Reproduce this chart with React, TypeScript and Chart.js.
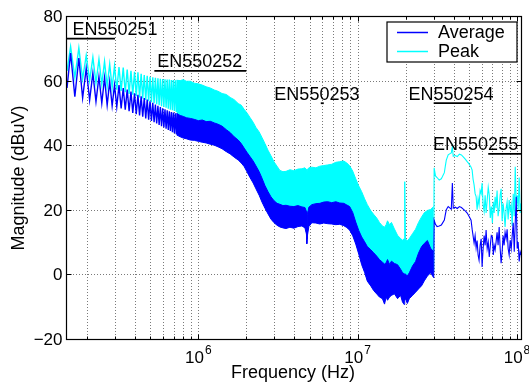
import React, { useEffect, useRef } from 'react';
import { Chart, registerables } from 'chart.js';

Chart.register(...registerables);

// ---------- conducted emission spectrum ----------

// Low-frequency harmonics (kHz), where individual lines are still resolved
const LF_KHZ = [150, 158, 168, 178, 188, 198, 208, 218, 228, 238, 248, 258, 268, 278, 288, 298, 308, 318, 328, 338, 348, 358, 368, 378, 388, 398, 408, 418, 428, 438, 448, 458, 468, 478, 488, 498, 508, 518, 528, 538, 548, 558, 568, 578, 588, 598, 608, 618, 628, 638, 648, 658, 668, 678, 688, 698, 708, 718, 728, 738, 748];

const PEAK_LF = [63.0, 70.5, 61.0, 70.1, 60.5, 67.8, 60.0, 67.2, 59.3, 66.6, 58.8, 65.9, 58.2, 65.1, 57.8, 64.5, 57.2, 64.2, 56.8, 64.0, 56.4, 63.4, 55.9, 63.0, 55.6, 62.7, 55.2, 62.6, 54.8, 62.1, 54.5, 61.7, 54.0, 61.5, 53.6, 61.2, 53.3, 61.0, 53.0, 60.9, 52.7, 60.7, 52.4, 60.6, 52.1, 60.5, 51.8, 60.4, 51.6, 60.3, 51.3, 60.3, 51.0, 60.2, 50.8, 60.2, 50.6, 60.1, 50.3, 60.1, 50.1];

const AVG_LF = [57.7, 68.5, 55.0, 67.0, 54.6, 63.8, 54.0, 62.3, 53.5, 61.2, 53.0, 60.9, 52.4, 59.7, 52.2, 58.6, 51.9, 58.6, 51.4, 57.7, 51.0, 57.2, 50.5, 56.6, 50.0, 56.1, 49.6, 55.6, 49.2, 55.1, 48.8, 54.6, 48.3, 54.1, 47.9, 53.6, 47.5, 53.1, 47.1, 52.6, 46.7, 52.2, 46.3, 51.8, 45.9, 51.4, 45.5, 51.1, 45.1, 50.8, 44.7, 50.5, 44.4, 50.3, 44.0, 50.1, 43.7, 49.9, 43.4, 49.8, 43.2];

// Dense region (MHz): harmonics merge into a band, given by its envelopes
const BAND_MHZ = [
  0.73, 0.77, 0.806, 0.841, 0.891, 0.944, 1.0, 1.06, 1.12, 1.19,
  1.26, 1.33, 1.41, 1.5, 1.585, 1.68, 1.78, 1.86, 1.94, 2.02,
  2.11, 2.21, 2.3, 2.41, 2.51, 2.62, 2.74, 2.86, 2.99, 3.12,
  3.25, 3.4, 3.55, 3.76, 3.98, 4.22, 4.47, 4.67, 4.77, 4.8,
  4.84, 4.94, 5.16, 5.47, 5.79, 6.13, 6.49, 6.88, 7.29, 7.72,
  8.18, 8.55, 8.91, 9.31, 9.73, 10.16, 10.6, 11.06, 11.5, 12.1,
  12.6, 13.2, 13.7, 14.3, 14.75, 15.1, 15.4, 15.85, 16.3, 17.0,
  17.8, 18.6, 19.1, 19.55, 19.75, 19.95, 20.5, 21.1, 22.1, 23.1,
  24.1, 25.2, 26.2, 27.4, 28.7, 30.0,
];

const PEAK_BAND_TOP = [
  60.1, 60.0, 60.3, 59.8, 59.8, 59.2, 59.0, 58.6, 58.1, 57.7,
  57.1, 56.7, 56.0, 55.7, 54.8, 54.1, 52.9, 52.4, 51.1, 50.0,
  48.6, 47.1, 45.5, 44.1, 42.4, 40.5, 38.4, 36.7, 34.8, 33.5,
  32.2, 31.8, 31.9, 32.4, 32.1, 32.6, 32.7, 33.0, 32.5, 31.5,
  32.5, 33.0, 33.2, 33.0, 33.5, 33.7, 33.9, 34.1, 34.7, 34.9,
  35.1, 34.5, 33.6, 32.0, 29.6, 27.4, 25.6, 23.4, 21.6, 19.7,
  18.6, 17.4, 16.1, 15.0, 14.6, 15.4, 16.6, 15.4, 16.1, 14.1,
  12.1, 11.1, 10.6, 11.0, 28.7, 11.0, 10.4, 11.1, 12.6, 14.0,
  16.1, 17.8, 19.1, 19.8, 20.1, 21.0,
];

const AVG_BAND_TOP = [
  49.8, 49.2, 48.9, 48.5, 48.3, 48.0, 47.6, 47.8, 47.3, 47.4,
  46.9, 46.5, 45.9, 44.8, 43.9, 42.6, 41.6, 40.5, 39.1, 37.8,
  36.5, 35.1, 33.6, 31.8, 29.8, 27.5, 25.6, 24.0, 22.8, 22.0,
  21.7, 21.3, 21.4, 21.1, 21.0, 21.3, 20.9, 20.7, 19.5, 11.0,
  18.5, 20.8, 21.6, 21.9, 22.0, 22.4, 22.5, 22.2, 22.5, 22.1,
  22.0, 21.5, 21.0, 19.2, 16.2, 13.6, 11.6, 10.1, 8.6, 7.6,
  6.7, 5.6, 4.6, 3.8, 3.2, 3.6, 4.6, 3.1, 4.1, 3.4,
  3.0, 1.6, 0.6, 0.2, 0.0, 0.1, -0.5, 0.5, 2.6, 4.0,
  6.6, 8.6, 9.6, 10.5, 8.1, 7.0,
];

const AVG_BAND_BOTTOM = [
  43.2, 42.6, 42.2, 42.0, 41.6, 41.5, 41.2, 40.9, 40.7, 40.3,
  40.0, 39.5, 38.9, 38.0, 37.3, 36.3, 35.4, 34.5, 33.4, 31.8,
  30.0, 28.3, 26.5, 24.5, 22.4, 20.5, 18.7, 17.1, 16.0, 15.2,
  14.7, 14.4, 14.2, 14.6, 14.3, 14.8, 15.0, 14.4, 12.5, 9.5,
  12.0, 14.8, 16.0, 15.9, 15.6, 15.9, 15.7, 15.6, 15.4, 15.5,
  15.1, 14.5, 13.7, 12.0, 9.4, 6.3, 3.0, 0.6, -2.1, -3.6,
  -5.0, -6.1, -7.0, -7.5, -9.2, -7.0, -8.0, -7.0, -6.5, -6.0,
  -7.5, -6.5, -8.5, -9.3, -8.0, -7.5, -9.0, -7.5, -6.5, -5.5,
  -4.5, -3.5, -2.0, -0.5, 0.5, -1.0,
];

// High-frequency scan (MHz)
const HF_MHZ = [
  30.0, 30.2, 30.8, 31.5, 32.5, 33.5, 34.0, 35.0, 35.5, 36.0,
  37.0, 38.0, 38.7, 39.3, 39.8, 41.0, 42.2, 43.5, 44.8, 46.0,
  47.5, 48.7, 50.0, 51.5, 52.3, 53.0, 53.8, 54.6, 55.4, 56.2,
  57.0, 57.8, 58.7, 59.6, 60.4, 61.3, 62.2, 63.1, 64.0, 65.0,
  66.0, 67.0, 68.0, 69.0, 70.1, 71.0, 71.9, 72.9, 73.9, 75.0,
  76.1, 77.3, 78.4, 79.5, 80.7, 81.8, 83.0, 84.2, 85.5, 86.7,
  88.0, 89.3, 90.6, 92.0, 93.3, 94.7, 96.1, 97.5, 98.9, 100.3,
  101.7, 103.2, 104.7, 106.2,
];

const PEAK_HF = [
  1.0, 33.0, 30.5, 30.0, 29.2, 29.6, 30.2, 31.5, 33.5, 35.4,
  37.0, 37.4, 37.6, 39.5, 36.6, 36.8, 36.5, 37.2, 37.0, 36.4,
  35.6, 34.9, 34.2, 33.2, 32.3, 29.5, 27.7, 25.0, 24.1, 20.0,
  23.5, 21.5, 26.0, 25.0, 28.3, 21.5, 19.5, 24.5, 19.0, 23.0,
  27.0, 24.5, 17.5, 21.0, 15.9, 22.5, 19.0, 24.0, 20.5, 26.0,
  18.0, 20.5, 24.5, 26.5, 16.5, 22.0, 19.0, 14.7, 20.5, 22.5,
  17.0, 23.0, 19.5, 21.5, 15.0, 25.0, 18.0, 33.3, 22.0, 24.5,
  20.0, 30.0, 19.0, 22.0,
];

const AVG_HF = [
  -1.0, 16.8, 15.5, 14.8, 15.0, 15.3, 15.8, 16.8, 18.5, 20.0,
  21.0, 20.5, 20.2, 28.3, 20.5, 20.8, 20.4, 21.0, 20.7, 20.2,
  19.6, 19.0, 18.0, 16.8, 14.0, 12.0, 9.7, 12.0, 8.2, 10.5,
  6.0, 4.4, 9.0, 11.0, 2.3, 8.0, 12.0, 9.0, 13.7, 8.0,
  10.0, 5.4, 9.0, 12.0, 11.6, 6.0, 9.0, 7.6, 10.0, 13.0,
  9.0, 14.7, 8.0, 3.5, 7.0, 12.0, 9.0, 13.0, 11.0, 14.0,
  8.0, 6.0, 10.6, 8.0, 12.0, 16.0, 7.0, 16.0, 24.0, 8.0,
  10.0, 4.0, 7.0, 6.0,
];

const SERIES_NAMES = ['Average', 'Peak'];
const SERIES_COLORS = ['#0000ff', '#00ffff'];

// EN 55025 limit lines
const LIMIT_NAMES = ['EN550251', 'EN550252', 'EN550253', 'EN550254', 'EN550255'];
const LIMIT_START_HZ = [150e3, 530e3, 5.87e6, 30e6, 66e6];
const LIMIT_END_HZ = [300e3, 2e6, 6.13e6, 52e6, 110e6];
const LIMIT_LEVEL = [73, 63, 53, 53, 37.3];
const LIMIT_LABEL_HZ = [300e3, 1.02e6, 5.55e6, 38.5e6, 55e6];

// axes
const X_MIN = 1.5e5;
const X_MAX = 1.075e8;
const Y_MIN = -20;
const Y_MAX = 80;
const Y_TICKS = [-20, 0, 20, 40, 60, 80];
const X_TICKS_HZ = [1e6, 1e7, 1e8];
const X_TITLE = 'Frequency (Hz)';
const Y_TITLE = 'Magnitude (dBuV)';

const FONT = '"Liberation Sans", Arial, Helvetica, sans-serif';

function toPoints(freqs: number[], unit: number, values: number[]) {
  return freqs.map((f, i) => ({ x: f * unit, y: values[i] }));
}

function fmtTick(v: number) {
  return v < 0 ? '\u2212' + String(-v) : String(v);
}

const decorations = {
  id: 'emiDecorations',
  beforeDatasetsDraw(chart: any) {
    const { ctx, chartArea: a } = chart;
    const xs = chart.scales.x;
    const ys = chart.scales.y;
    ctx.save();
    ctx.strokeStyle = '#7a7a7a';
    ctx.lineWidth = 1;
    ctx.setLineDash([1, 2]);
    ctx.beginPath();
    for (let e = 5; e <= 8; e++) {
      for (let m = 1; m <= 9; m++) {
        const v = m * Math.pow(10, e);
        if (v <= X_MIN || v >= X_MAX) continue;
        const px = Math.round(xs.getPixelForValue(v)) + 0.5;
        ctx.moveTo(px, a.top);
        ctx.lineTo(px, a.bottom);
      }
    }
    for (const t of Y_TICKS) {
      if (t <= Y_MIN || t >= Y_MAX) continue;
      const py = Math.round(ys.getPixelForValue(t)) + 0.5;
      ctx.moveTo(a.left, py);
      ctx.lineTo(a.right, py);
    }
    ctx.stroke();
    ctx.restore();
  },
  afterDraw(chart: any) {
    const { ctx, chartArea: a } = chart;
    const xs = chart.scales.x;
    const ys = chart.scales.y;
    const L = Math.round(a.left) - 0.5;
    const R = Math.round(a.right) - 0.5;
    const T = Math.round(a.top) + 0.5;
    const B = Math.round(a.bottom) + 0.5;

    ctx.save();
    // axes box
    ctx.strokeStyle = '#000';
    ctx.lineWidth = 1.2;
    ctx.setLineDash([]);
    ctx.strokeRect(L, T, R - L, B - T);

    // tick marks (inside, on all four sides)
    ctx.lineWidth = 1;
    ctx.beginPath();
    for (let e = 5; e <= 8; e++) {
      for (let m = 1; m <= 9; m++) {
        const v = m * Math.pow(10, e);
        if (v <= X_MIN || v >= X_MAX) continue;
        const px = Math.round(xs.getPixelForValue(v)) + 0.5;
        const len = m === 1 ? 5 : 3;
        ctx.moveTo(px, B); ctx.lineTo(px, B - len);
        ctx.moveTo(px, T); ctx.lineTo(px, T + len);
      }
    }
    for (const t of Y_TICKS) {
      const py = Math.round(ys.getPixelForValue(t)) + 0.5;
      ctx.moveTo(L, py); ctx.lineTo(L + 5, py);
      ctx.moveTo(R, py); ctx.lineTo(R - 5, py);
    }
    ctx.stroke();

    // y tick labels
    ctx.fillStyle = '#000';
    ctx.font = `17px ${FONT}`;
    ctx.textAlign = 'right';
    ctx.textBaseline = 'alphabetic';
    for (const t of Y_TICKS) {
      const py = ys.getPixelForValue(t);
      ctx.fillText(fmtTick(t), a.left - 4.5, py + 6);
    }

    // x tick labels as powers of ten
    ctx.textAlign = 'left';
    for (const v of X_TICKS_HZ) {
      const px = xs.getPixelForValue(v);
      const exp = String(Math.round(Math.log10(v)));
      ctx.font = `17px ${FONT}`;
      const wBase = ctx.measureText('10').width;
      ctx.font = `12px ${FONT}`;
      const wExp = ctx.measureText(exp).width;
      const x0 = px - (wBase + 1 + wExp) / 2;
      ctx.font = `17px ${FONT}`;
      ctx.fillText('10', x0, a.bottom + 23.5);
      ctx.font = `12px ${FONT}`;
      ctx.fillText(exp, x0 + wBase + 1, a.bottom + 14.5);
    }

    // axis titles
    ctx.font = `18px ${FONT}`;
    ctx.textAlign = 'center';
    ctx.fillText(X_TITLE, (a.left + a.right) / 2 - 1.5, a.bottom + 39);
    ctx.save();
    ctx.translate(24, (a.top + a.bottom) / 2 + 0.5);
    ctx.rotate(-Math.PI / 2);
    ctx.fillText(Y_TITLE, 0, 0);
    ctx.restore();

    // limit labels
    LIMIT_NAMES.forEach((name, i) => {
      const cx = xs.getPixelForValue(LIMIT_LABEL_HZ[i]);
      const by = ys.getPixelForValue(LIMIT_LEVEL[i]) - 3.5;
      ctx.fillText(name, cx, by);
    });

    // legend
    const boxW = 130;
    const boxH = 40;
    const boxR = R - 4.5;
    const boxL = boxR - boxW;
    const boxT = T + 5.5;
    ctx.fillStyle = '#fff';
    ctx.fillRect(boxL, boxT, boxW, boxH);
    ctx.strokeStyle = '#000';
    ctx.lineWidth = 1.2;
    ctx.strokeRect(boxL, boxT, boxW, boxH);
    ctx.textAlign = 'left';
    SERIES_NAMES.forEach((name, i) => {
      const y = boxT + 10.5 + i * 19;
      ctx.strokeStyle = SERIES_COLORS[i];
      ctx.lineWidth = 1.5;
      ctx.beginPath();
      ctx.moveTo(boxL + 10, y);
      ctx.lineTo(boxL + 41, y);
      ctx.stroke();
      ctx.fillStyle = '#000';
      ctx.fillText(name, boxL + 51, y + 5.5);
    });
    ctx.restore();
  },
};

export default function App() {
  const canvasRef = useRef<HTMLCanvasElement | null>(null);

  useEffect(() => {
    document.body.style.margin = '0';
    const canvas = canvasRef.current;
    if (!canvas) return;

    const [avgColor, peakColor] = SERIES_COLORS;
    const line = (extra: any) => ({
      pointRadius: 0,
      tension: 0,
      fill: false,
      ...extra,
    });

    const datasets: any[] = [
      // 0..3: Average
      line({ label: SERIES_NAMES[0], data: toPoints(LF_KHZ, 1e3, AVG_LF), borderColor: avgColor, borderWidth: 1.4, order: 1 }),
      line({ label: SERIES_NAMES[0], data: toPoints(BAND_MHZ, 1e6, AVG_BAND_TOP), borderColor: avgColor, backgroundColor: avgColor, borderWidth: 1, fill: 2, order: 1 }),
      line({ label: SERIES_NAMES[0], data: toPoints(BAND_MHZ, 1e6, AVG_BAND_BOTTOM), borderColor: avgColor, borderWidth: 1, order: 1 }),
      line({ label: SERIES_NAMES[0], data: toPoints(HF_MHZ, 1e6, AVG_HF), borderColor: avgColor, borderWidth: 1.1, order: 1 }),
      // 4..6: Peak
      line({ label: SERIES_NAMES[1], data: toPoints(LF_KHZ, 1e3, PEAK_LF), borderColor: peakColor, borderWidth: 1.4, order: 2 }),
      line({ label: SERIES_NAMES[1], data: toPoints(BAND_MHZ, 1e6, PEAK_BAND_TOP), borderColor: peakColor, backgroundColor: peakColor, borderWidth: 1, fill: 2, order: 2 }),
      line({ label: SERIES_NAMES[1], data: toPoints(HF_MHZ, 1e6, PEAK_HF), borderColor: peakColor, borderWidth: 1.1, order: 2 }),
    ];

    LIMIT_NAMES.forEach((name, i) => {
      datasets.push(line({
        label: name,
        data: [
          { x: LIMIT_START_HZ[i], y: LIMIT_LEVEL[i] },
          { x: LIMIT_END_HZ[i], y: LIMIT_LEVEL[i] },
        ],
        borderColor: '#000',
        borderWidth: 1.8,
        order: 0,
      }));
    });

    const chart = new Chart(canvas, {
      type: 'line',
      data: { datasets },
      options: {
        animation: false,
        responsive: false,
        devicePixelRatio: 1,
        layout: { padding: { left: 67, top: 16, right: 7, bottom: 44 } },
        scales: {
          x: { type: 'logarithmic', min: X_MIN, max: X_MAX, display: false },
          y: { type: 'linear', min: Y_MIN, max: Y_MAX, display: false },
        },
        plugins: {
          legend: { display: false },
          tooltip: { enabled: false },
          filler: { propagate: false },
        },
        events: [],
      },
      plugins: [decorations],
    });

    return () => chart.destroy();
  }, []);

  return (
    <div style={{ width: 529, height: 383 }}>
      <canvas ref={canvasRef} width={529} height={383} style={{ display: 'block' }} />
    </div>
  );
}
